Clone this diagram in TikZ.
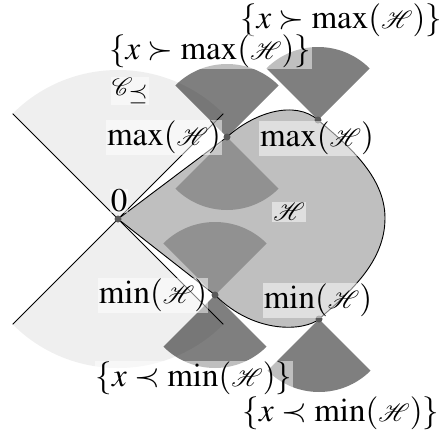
\documentclass[tikz,border=0pt]{standalone}
\usepackage{mathptmx}
\usepackage{mathrsfs}
\usepackage{fontspec}
\setmainfont{Liberation Serif}
\usetikzlibrary{calc}
\begin{document}
\begin{tikzpicture}[x=1pt,y=-1pt,
  lbl/.style={fill=white,fill opacity=0.5,text opacity=1,inner sep=1pt,font=\fontsize{33}{39}\selectfont},
  conefill/.style={fill=black!6.3},
  outsect/.style={fill=black,fill opacity=0.5},
  insect/.style={fill=black!43},
  hset/.style={fill=black!25},
  dotn/.style={circle,fill=black!65,inner sep=0pt,minimum size=7pt},
  bd/.style={line width=0.9pt},
  conel/.style={line width=0.8pt}]
\useasboundingbox (0,0) rectangle (442,434);
\coordinate (O) at (118,219);
\coordinate (Lmax) at (227,137);
\coordinate (Rmax) at (318,120);
\coordinate (Lmin) at (215,295);
\coordinate (Rmin) at (319,319);
\coordinate (cUR) at ($(O)+(315:149)$);
\coordinate (cUL) at ($(O)+(225:149)$);
\coordinate (cDR) at ($(O)+(45:149)$);
\coordinate (cDL) at ($(O)+(135:149)$);
% cone C
\fill[conefill] (O) -- (cUL) arc[start angle=225,end angle=315,radius=149] -- cycle;
\fill[conefill] (O) -- (cDR) arc[start angle=45,end angle=135,radius=149] -- cycle;
% outer sectors
\fill[outsect] (Lmax) -- +(225:73) arc[start angle=225,end angle=315,radius=73] -- cycle;
\fill[outsect] (Rmax) -- +(225:73) arc[start angle=225,end angle=315,radius=73] -- cycle;
\fill[outsect] (Lmin) -- +(45:73) arc[start angle=45,end angle=135,radius=73] -- cycle;
\fill[outsect] (Rmin) -- +(45:73) arc[start angle=45,end angle=135,radius=73] -- cycle;
% H
\fill[hset] (O) -- (Lmax) .. controls (255,112) and (295,100) .. (Rmax)
  .. controls (345,143) and (385,175) .. (385,218)
  .. controls (385,262) and (350,292) .. (Rmin)
  .. controls (305,331) and (255,335) .. (Lmin) -- cycle;
% inner sectors
\fill[insect] (Lmax) -- +(45:73) arc[start angle=45,end angle=135,radius=73] -- cycle;
\fill[insect] (Lmin) -- +(225:73) arc[start angle=225,end angle=315,radius=73] -- cycle;
% strokes
\draw[conel] (cUL) -- (O) -- (cDR);
\draw[conel] (cDL) -- (O) -- (cUR);
\draw[bd] (O) -- (Lmax) .. controls (255,112) and (295,100) .. (Rmax)
  .. controls (345,143) and (385,175) .. (385,218)
  .. controls (385,262) and (350,292) .. (Rmin)
  .. controls (305,331) and (255,335) .. (Lmin) -- cycle;
% dots
\node[dotn] (dO) at (O) {};
\node[dotn] (dLmax) at (Lmax) {};
\node[dotn] (dRmax) at (Rmax) {};
\node[dotn] (dLmin) at (Lmin) {};
\node[dotn] (dRmin) at (Rmin) {};
% labels
\node[lbl] (tmax) at (341,20) {$\{x\succ\max(\mathscr{H})\}$};
\node[lbl] (lmaxset) at (210,51) {$\{x\succ\max(\mathscr{H})\}$};
\node[lbl] (conelbl) at (130,91) {$\mathscr{C}_{\preceq}$};
\node[lbl] (lmaxl) at (164,137) {$\max(\mathscr{H})$};
\node[lbl] (rmaxl) at (317,138) {$\max(\mathscr{H})$};
\node[lbl] (zero) at (119,201) {$0$};
\node[lbl] (hl) at (289,212) {$\mathscr{H}$};
\node[lbl] (lminl) at (153,295) {$\min(\mathscr{H})$};
\node[lbl] (rminl) at (318,300) {$\min(\mathscr{H})$};
\node[lbl] (lminset) at (194,378) {$\{x\prec\min(\mathscr{H})\}$};
\node[lbl] (bmin) at (341,413) {$\{x\prec\min(\mathscr{H})\}$};
\end{tikzpicture}
\end{document}
